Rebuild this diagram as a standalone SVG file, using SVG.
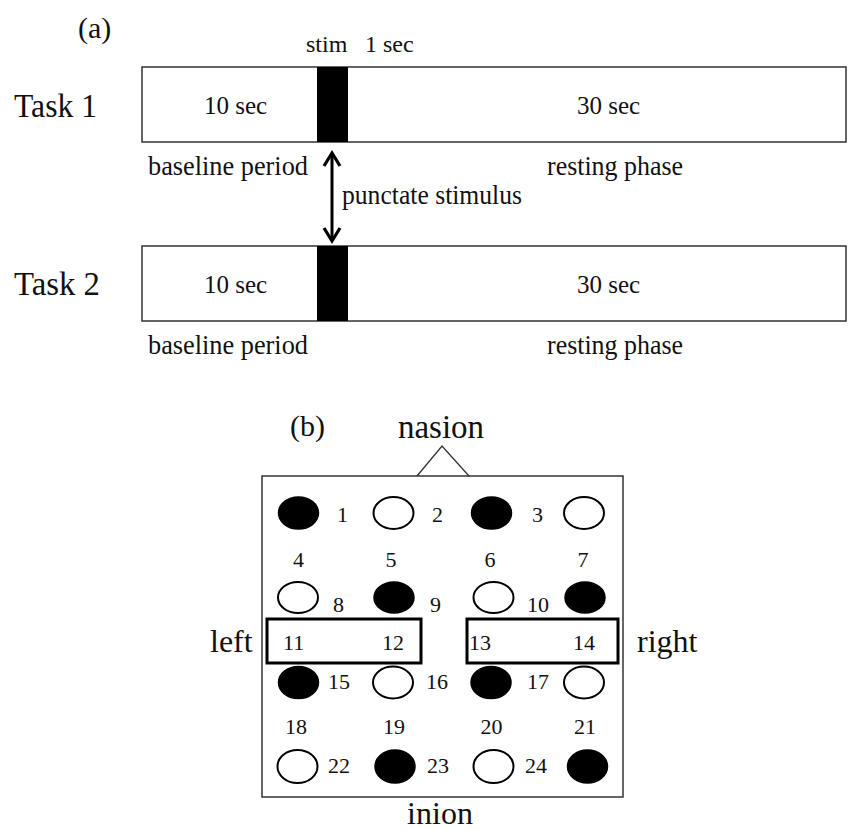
<svg xmlns="http://www.w3.org/2000/svg" width="850" height="830" viewBox="0 0 850 830">
<defs>
<style>
text{font-family:"Liberation Serif","Times New Roman",serif;fill:#111}
.big{font-size:34px}
.lab{font-size:27px}
.sec{font-size:25px}
.num{font-size:22px}
.mid{text-anchor:middle}
.bar{fill:#fff;stroke:#333;stroke-width:1.5}
.stim{fill:#000}
.on{fill:#000;stroke:#000;stroke-width:1.5}
.off{fill:#fff;stroke:#000;stroke-width:2}
.roi{fill:none;stroke:#000;stroke-width:3}
.head{fill:#fff;stroke:#333;stroke-width:1.5}
</style>
<marker id="ah" viewBox="0 0 20 20" refX="16" refY="10" markerWidth="20" markerHeight="20" markerUnits="userSpaceOnUse" orient="auto-start-reverse">
<path d="M3,2 L16,10 L3,18" fill="none" stroke="#000" stroke-width="3.2"/>
</marker>
</defs>

<g id="panel-a">
<text x="78" y="38" style="font-size:30px">(a)</text>
<g id="stim-label"><text x="306" y="52" style="font-size:24px">stim</text><text x="365" y="52" style="font-size:24px">1 sec</text></g>

<g id="task1">
<text class="big" x="14" y="117" textLength="83" lengthAdjust="spacingAndGlyphs">Task 1</text>
<rect class="bar" x="142" y="67" width="704" height="75"/>
<rect class="stim" x="317" y="67" width="31" height="75"/>
<text class="sec" x="204" y="114">10 sec</text>
<text class="sec" x="577" y="114">30 sec</text>
<text class="lab" x="148" y="175" textLength="160" lengthAdjust="spacingAndGlyphs">baseline period</text>
<text class="lab" x="547" y="175" textLength="136" lengthAdjust="spacingAndGlyphs">resting phase</text>
</g>

<g id="task2">
<text class="big" x="14" y="295" textLength="86" lengthAdjust="spacingAndGlyphs">Task 2</text>
<rect class="bar" x="142" y="246" width="704" height="75"/>
<rect class="stim" x="317" y="246" width="31" height="75"/>
<text class="sec" x="204" y="293">10 sec</text>
<text class="sec" x="577" y="293">30 sec</text>
<text class="lab" x="148" y="354" textLength="160" lengthAdjust="spacingAndGlyphs">baseline period</text>
<text class="lab" x="547" y="354" textLength="136" lengthAdjust="spacingAndGlyphs">resting phase</text>
</g>

<g id="connectors">
<line x1="332" y1="153" x2="332" y2="241" stroke="#000" stroke-width="3" marker-start="url(#ah)" marker-end="url(#ah)"/>
</g>
<text class="lab" x="342" y="204" textLength="180" lengthAdjust="spacingAndGlyphs">punctate stimulus</text>
</g>

<g id="panel-b">
<text x="290" y="436" style="font-size:30px">(b)</text>
<text class="mid" x="441" y="438" style="font-size:33px">nasion</text>
<rect class="head" x="262" y="476" width="361" height="321"/>
<polyline points="417,476 442,446 469,476" fill="none" stroke="#333" stroke-width="1.3"/>
<text x="210" y="652" style="font-size:32px">left</text>
<text x="637" y="652" style="font-size:32px">right</text>
<text class="mid" x="440" y="824" style="font-size:32px">inion</text>

<g id="row1">
<ellipse class="on" cx="298.5" cy="513" rx="20" ry="16"/>
<ellipse class="off" cx="393.5" cy="513" rx="20" ry="16"/>
<ellipse class="on" cx="491.5" cy="513" rx="20" ry="16"/>
<ellipse class="off" cx="584" cy="513" rx="20" ry="16"/>
<text class="num" x="337" y="522">1</text>
<text class="num" x="432" y="522">2</text>
<text class="num" x="532" y="522">3</text>
</g>
<g id="row1b">
<text class="num mid" x="298.5" y="567">4</text>
<text class="num mid" x="391" y="567">5</text>
<text class="num mid" x="490" y="567">6</text>
<text class="num mid" x="583" y="567">7</text>
</g>
<g id="row2">
<ellipse class="off" cx="298" cy="597.5" rx="20" ry="15.5"/>
<ellipse class="on" cx="394" cy="597.5" rx="20" ry="15.5"/>
<ellipse class="off" cx="493.5" cy="597.5" rx="20" ry="15.5"/>
<ellipse class="on" cx="585" cy="597.5" rx="20" ry="15.5"/>
<text class="num" x="333" y="612">8</text>
<text class="num" x="430" y="612">9</text>
<text class="num" x="527" y="612">10</text>
</g>
<g id="roi-left">
<rect class="roi" x="267" y="619" width="154" height="44"/>
<text class="num" x="283" y="650">11</text>
<text class="num" x="382" y="650">12</text>
</g>
<g id="roi-right">
<rect class="roi" x="467" y="619" width="151" height="44"/>
<text class="num" x="469" y="650">13</text>
<text class="num" x="573" y="650">14</text>
</g>
<g id="row3">
<ellipse class="on" cx="298.5" cy="682.5" rx="20" ry="16"/>
<ellipse class="off" cx="393" cy="682.5" rx="20" ry="16"/>
<ellipse class="on" cx="491" cy="682.5" rx="20" ry="16"/>
<ellipse class="off" cx="584" cy="682.5" rx="20" ry="16"/>
<text class="num" x="328" y="689">15</text>
<text class="num" x="426" y="689">16</text>
<text class="num" x="527" y="689">17</text>
</g>
<g id="row3b">
<text class="num mid" x="296" y="734">18</text>
<text class="num mid" x="394" y="734">19</text>
<text class="num mid" x="491.5" y="734">20</text>
<text class="num mid" x="585" y="734">21</text>
</g>
<g id="row4">
<ellipse class="off" cx="297.5" cy="766.5" rx="20" ry="16.5"/>
<ellipse class="on" cx="395" cy="766.5" rx="20" ry="16.5"/>
<ellipse class="off" cx="493.5" cy="766.5" rx="20" ry="16.5"/>
<ellipse class="on" cx="587.5" cy="766.5" rx="20" ry="16.5"/>
<text class="num" x="328" y="773">22</text>
<text class="num" x="427" y="773">23</text>
<text class="num" x="525" y="773">24</text>
</g>
</g>
</svg>
